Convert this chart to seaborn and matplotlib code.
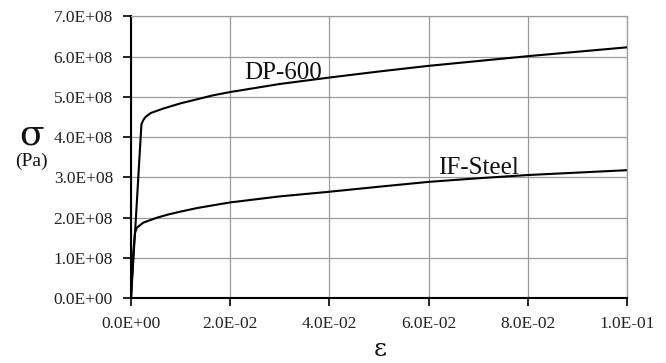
import matplotlib
matplotlib.use("Agg")
import matplotlib.pyplot as plt
import seaborn as sns
import pandas as pd
from matplotlib.ticker import FuncFormatter

# True stress-strain curves
dp_strain = [0.0, 0.0010, 0.0021, 0.0025, 0.0030, 0.0040, 0.0065, 0.0100, 0.0133,
             0.0166, 0.0200, 0.0300, 0.0400, 0.0500, 0.0600, 0.0700, 0.0800,
             0.0900, 0.1000]
dp_stress = [0.0, 2.02e8, 4.32e8, 4.43e8, 4.51e8, 4.60e8, 4.71e8, 4.84e8, 4.94e8,
             5.04e8, 5.12e8, 5.32e8, 5.48e8, 5.63e8, 5.77e8, 5.89e8, 6.01e8,
             6.12e8, 6.23e8]

if_strain = [0.0, 0.0005, 0.0008, 0.00115, 0.0025, 0.0052, 0.0075, 0.0099, 0.0133,
             0.0166, 0.0200, 0.0300, 0.0400, 0.0500, 0.0600, 0.0700, 0.0800,
             0.0900, 0.1000]
if_stress = [0.0, 1.20e8, 1.62e8, 1.75e8, 1.88e8, 2.00e8, 2.08e8, 2.15e8, 2.24e8,
             2.31e8, 2.38e8, 2.53e8, 2.645e8, 2.77e8, 2.89e8, 2.98e8, 3.06e8,
             3.12e8, 3.18e8]

x_ticks = [0.0, 0.02, 0.04, 0.06, 0.08, 0.10]
y_ticks = [0.0, 1e8, 2e8, 3e8, 4e8, 5e8, 6e8, 7e8]

dp = pd.DataFrame({"strain": dp_strain, "stress": dp_stress})
ifs = pd.DataFrame({"strain": if_strain, "stress": if_stress})

sns.set_theme(style="white")
plt.rcParams["font.family"] = ["Liberation Serif", "DejaVu Serif"]

fig = plt.figure(figsize=(6.66, 3.63), dpi=100)
ax = fig.add_axes([0.1967, 0.1782, 0.7447, 0.7769])

grid_col = "#9a9a9a"
ax.set_axisbelow(True)
ax.grid(True, color=grid_col, linewidth=0.9)

sns.lineplot(data=dp, x="strain", y="stress", sort=False, color="black",
             linewidth=1.5, ax=ax, estimator=None)
sns.lineplot(data=ifs, x="strain", y="stress", sort=False, color="black",
             linewidth=1.5, ax=ax, estimator=None)

ax.set_xlim(0, 0.1)
ax.set_ylim(0, 7e8)
ax.set_xticks(x_ticks)
ax.set_yticks(y_ticks)
fmt = FuncFormatter(lambda v, p: f"{v:.1E}")
ax.xaxis.set_major_formatter(fmt)
ax.yaxis.set_major_formatter(fmt)
ax.tick_params(axis="both", which="major", direction="out", length=6, width=1.2,
               color="black", labelsize=12.5, labelcolor="#222222", pad=7,
               bottom=True, left=True)

for side in ("top", "right"):
    ax.spines[side].set_color(grid_col)
    ax.spines[side].set_linewidth(0.9)
for side in ("left", "bottom"):
    ax.spines[side].set_color("black")
    ax.spines[side].set_linewidth(1.5)

ax.set_xlabel("")
ax.set_ylabel("")

ax.text(0.0228, 5.45e8, "DP-600", fontsize=18, ha="left", va="baseline", color="#111111")
ax.text(0.0620, 3.09e8, "IF-Steel", fontsize=18, ha="left", va="baseline", color="#111111")

fig.text(32 / 666, 1 - 145 / 363, "σ", fontsize=26, ha="center", va="baseline",
         family=["DejaVu Serif"], color="#111111")
fig.text(31 / 666, 1 - 166 / 363, "(Pa)", fontsize=14, ha="center", va="baseline",
         color="#111111")
fig.text(380 / 666, 1 - 356 / 363, "ε", fontsize=18, ha="center", va="baseline",
         family=["DejaVu Serif"], color="#111111")

fig.savefig("out.png", dpi=100)
